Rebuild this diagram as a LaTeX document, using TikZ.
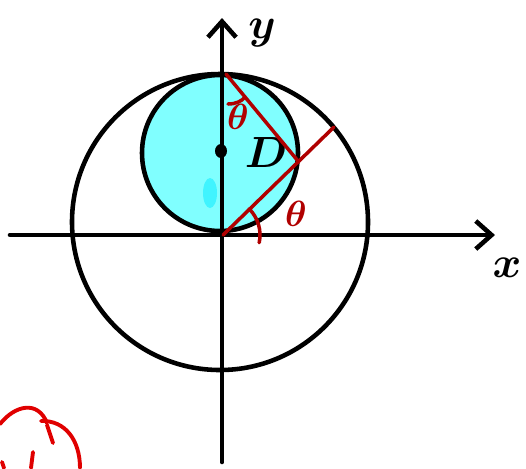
\documentclass[tikz,border=0pt]{standalone}
\usepackage{bm}
\usetikzlibrary{arrows.meta}
\definecolor{dred}{HTML}{B00000}
\definecolor{bred}{HTML}{E00000}
\definecolor{fillc}{HTML}{80FFFF}
\definecolor{blobc}{HTML}{40F4FF}
\begin{document}
\begin{tikzpicture}[x=0.02cm,y=-0.02cm,
  axis/.style={line width=2.6pt, line cap=round, -{Straight Barb[length=9pt,width=16pt,line width=2.6pt]}},
  circ/.style={line width=2.6pt, draw=black},
  redl/.style={line width=2pt, draw=dred, line cap=round},
  lbl/.style={font=\fontsize{27}{27}\selectfont, inner sep=0pt},
  thl/.style={font=\fontsize{22}{22}\selectfont, inner sep=0pt, text=dred}]
\useasboundingbox (0,0) rectangle (526,468);
% small filled circle
\fill[fillc] (220,153) circle (78);
\fill[blobc] (210,193) ellipse (7 and 15);
\draw[circ] (220,153) circle (78);
% big circle
\draw[circ] (220,222) circle (148);
% axes
\coordinate (xs) at (10,235);
\coordinate (xe) at (495,235);
\coordinate (ys) at (222,462);
\coordinate (ye) at (222,18);
\draw[axis] (xs) -- (xe);
\draw[axis] (ys) -- (ye);
\node[lbl] (ylab) at (262,33) {$\bm{y}$};
\node[lbl] (xlab) at (507,268) {$\bm{x}$};
% points
\coordinate (O) at (223,235);
\coordinate (T) at (226,74);
\coordinate (P) at (334,127);
\coordinate (F) at (298,161);
\fill (221,151) ellipse (6 and 7);
\node[lbl] (D) at (266,152) {$\bm{D}$};
% red lines
\draw[redl] (O) -- (P);
\draw[redl] (T) -- (F);
\draw[redl] (O) ++(-45:37) arc (-45:12:37);
\draw[redl] (228,104) .. controls (236,104) and (242,101) .. (245,97);
\node[thl] (th1) at (238,117) {$\bm{\theta}$};
\node[thl] (th2) at (296,214) {$\bm{\theta}$};
% partial red scribble bottom-left
\draw[line width=2.2pt, draw=bred, line cap=round] (0,424) .. controls (15,405) and (38,400) .. (47,423) ;
\draw[line width=2.2pt, draw=bred, line cap=round] (41,421) .. controls (65,420) and (80,440) .. (80,468);
\draw[line width=2.2pt, draw=bred, line cap=round] (47,425) -- (53,443);
\draw[line width=2.2pt, draw=bred, line cap=round] (33,452) -- (31,468);
\draw[line width=2.2pt, draw=bred, line cap=round] (2,462) -- (4,468);
\end{tikzpicture}
\end{document}
